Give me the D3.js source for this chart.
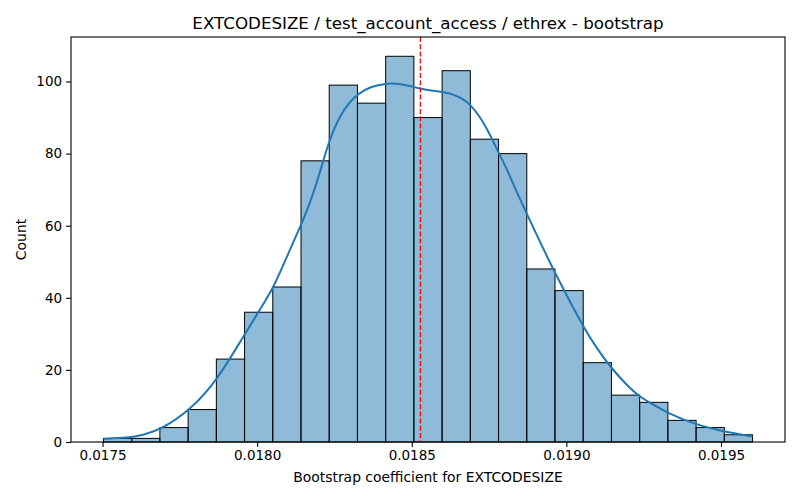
<!DOCTYPE html>
<html>
<head>
<meta charset="utf-8">
<script src="https://cdn.jsdelivr.net/npm/d3@7"></script>
<style>
  body { margin: 0; background: #fff; }
  text { font-family: "DejaVu Sans", sans-serif; fill: #000; }
</style>
</head>
<body>
<svg id="chart" width="800" height="500"></svg>
<script>
// ---- data ----
const chartTitle = "EXTCODESIZE / test_account_access / ethrex - bootstrap";
const xLabel = "Bootstrap coefficient for EXTCODESIZE";
const yLabel = "Count";
const binStart = 0.017503;
const binEnd = 0.019602;
const binCounts = [1, 1, 4, 9, 23, 36, 43, 78, 99, 94, 107, 90, 103, 84, 80, 48, 42, 22, 13, 11, 6, 4, 2];
const kdeX = [0.017503, 0.017581, 0.017634, 0.017688, 0.017785, 0.017869, 0.017959, 0.018011, 0.018054,
  0.018097, 0.018143, 0.018172, 0.018204, 0.018233, 0.018269, 0.018301, 0.018325, 0.018366, 0.018419,
  0.018452, 0.018484, 0.018527, 0.018570, 0.018602, 0.018634, 0.018666, 0.018688, 0.018720, 0.018753,
  0.018779, 0.018806, 0.018833, 0.018873, 0.018956, 0.019011, 0.019054, 0.019097, 0.019145, 0.019194,
  0.019237, 0.019269, 0.019328, 0.019419, 0.019508, 0.019602];
const kdeY = [0.9, 1.1, 2.0, 3.4, 9.0, 16.9, 29.8, 37.0, 43.0,
  51.6, 60.4, 66.5, 75.0, 83.8, 90.8, 94.5, 96.5, 98.6, 99.5,
  99.4, 99.0, 98.0, 97.4, 97.1, 96.5, 95.1, 93.7, 90.4, 85.3,
  80.5, 76.1, 70.5, 63.1, 48.0, 39.1, 32.1, 26.1, 20.5, 15.9,
  12.5, 11.0, 8.0, 4.8, 2.9, 1.5];
const refLine = 0.018528;
const xTicks = [0.0175, 0.0180, 0.0185, 0.0190, 0.0195];
const yTicks = [0, 20, 40, 60, 80, 100];

// ---- layout ----
const mLeft = 71, mRight = 785, mTop = 37, mBottom = 442;
const svg = d3.select("#chart");

const span = binEnd - binStart;
const x = d3.scaleLinear().domain([binStart - span * 0.05, binEnd + span * 0.05]).range([mLeft, mRight]);
const y = d3.scaleLinear().domain([0, d3.max(binCounts) * 1.05]).range([mBottom, mTop]);

const bw = span / binCounts.length;
const bins = binCounts.map((c, i) => ({ x0: binStart + i * bw, x1: binStart + (i + 1) * bw, c }));

svg.append("g").selectAll("rect").data(bins).enter().append("rect")
  .attr("x", d => x(d.x0))
  .attr("y", d => y(d.c))
  .attr("width", d => x(d.x1) - x(d.x0))
  .attr("height", d => y(0) - y(d.c))
  .attr("fill", "rgba(31,119,180,0.5)")
  .attr("stroke", "#000")
  .attr("stroke-width", 1);

const kde = kdeX.map((v, i) => [v, kdeY[i]]);
svg.append("path").datum(kde)
  .attr("d", d3.line().x(d => x(d[0])).y(d => y(d[1])).curve(d3.curveBasis))
  .attr("fill", "none").attr("stroke", "#1f77b4").attr("stroke-width", 2);

svg.append("line")
  .attr("x1", x(refLine)).attr("x2", x(refLine))
  .attr("y1", mTop).attr("y2", mBottom)
  .attr("stroke", "red").attr("stroke-width", 1.3)
  .attr("stroke-dasharray", "5,2.2");

// axes
const xAxis = svg.append("g").attr("transform", `translate(0,${mBottom})`)
  .call(d3.axisBottom(x).tickValues(xTicks).tickFormat(d3.format(".4f")).tickSize(4.9).tickPadding(4));
const yAxis = svg.append("g").attr("transform", `translate(${mLeft},0)`)
  .call(d3.axisLeft(y).tickValues(yTicks).tickSize(4.9).tickPadding(4));
[xAxis, yAxis].forEach(g => {
  g.select(".domain").remove();
  g.selectAll("line").attr("stroke", "#000").attr("stroke-width", 1.1);
  g.selectAll("text").style("font-family", "DejaVu Sans").style("font-size", "13.5px").attr("fill", "#000");
});

// frame
svg.append("rect").attr("x", mLeft).attr("y", mTop).attr("width", mRight - mLeft).attr("height", mBottom - mTop)
  .attr("fill", "none").attr("stroke", "#000").attr("stroke-width", 1.1);

svg.append("text").attr("x", (mLeft + mRight) / 2).attr("y", 29).attr("text-anchor", "middle")
  .style("font-size", "16.7px").text(chartTitle);
svg.append("text").attr("x", (mLeft + mRight) / 2).attr("y", 482).attr("text-anchor", "middle")
  .style("font-size", "13.9px").text(xLabel);
svg.append("text").attr("transform", `translate(26,${(mTop + mBottom) / 2}) rotate(-90)`).attr("text-anchor", "middle")
  .style("font-size", "13.9px").text(yLabel);
</script>
</body>
</html>
